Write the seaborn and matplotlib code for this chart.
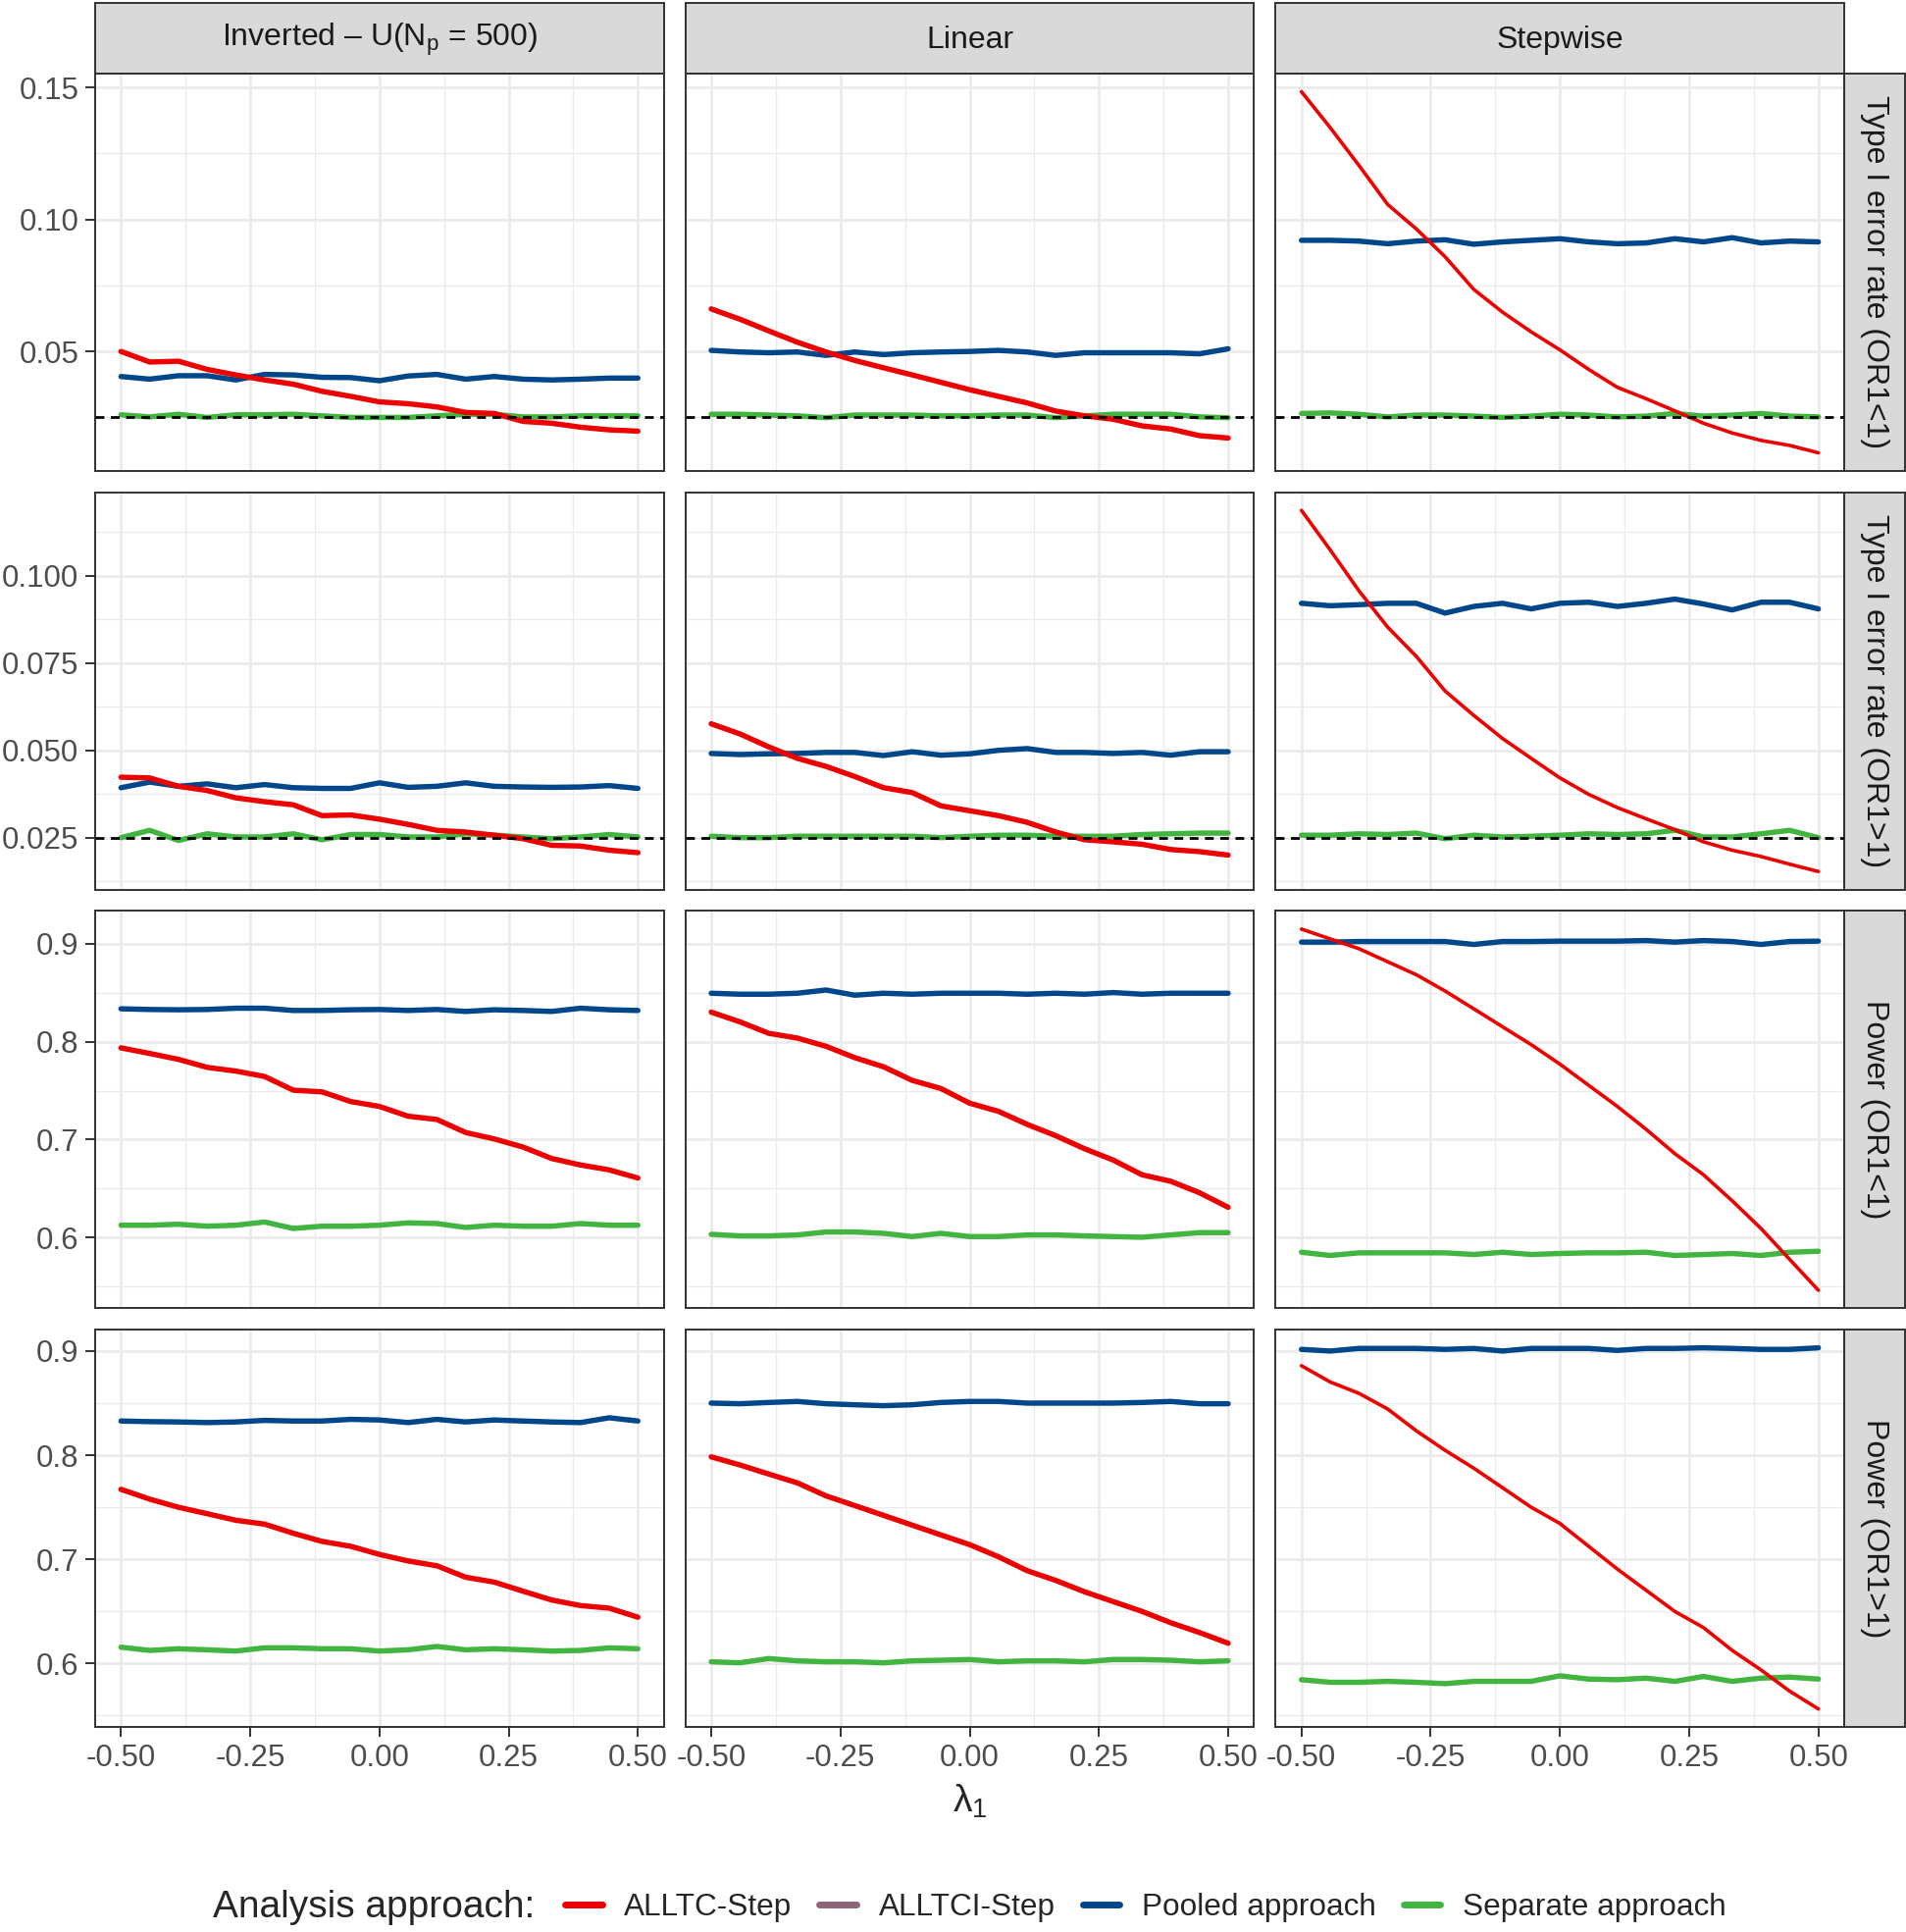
import numpy as np
import pandas as pd
import seaborn as sns
import matplotlib.pyplot as plt
from matplotlib.patches import Rectangle
from matplotlib.lines import Line2D

#%% data
lambda1 = np.linspace(-0.5, 0.5, 19)

shapes = ["Inverted \u2013 U(N$_\\mathregular{p}$ = 500)", "Linear", "Stepwise"]
metrics = ["Type I error rate (OR1<1)", "Type I error rate (OR1>1)",
           "Power (OR1<1)", "Power (OR1>1)"]
approaches = ["ALLTC-Step", "ALLTCI-Step", "Pooled approach", "Separate approach"]

# Type I error rate (OR1<1)
t1lt_inv_alltc = [0.0500, 0.0460, 0.0463, 0.0432, 0.0411, 0.0392, 0.0376, 0.0349, 0.0330, 0.0309,
                  0.0302, 0.0290, 0.0269, 0.0265, 0.0235, 0.0228, 0.0213, 0.0203, 0.0198]
t1lt_inv_pooled = [0.0405, 0.0395, 0.0408, 0.0408, 0.0392, 0.0413, 0.0411, 0.0402, 0.0401, 0.0389,
                   0.0407, 0.0413, 0.0395, 0.0405, 0.0395, 0.0392, 0.0395, 0.0399, 0.0399]
t1lt_inv_sep = [0.0260, 0.0252, 0.0262, 0.0250, 0.0260, 0.0260, 0.0262, 0.0256, 0.0250, 0.0250,
                0.0250, 0.0256, 0.0262, 0.0262, 0.0252, 0.0252, 0.0256, 0.0256, 0.0256]
t1lt_lin_alltc = [0.0661, 0.0622, 0.0578, 0.0535, 0.0498, 0.0466, 0.0438, 0.0411, 0.0383, 0.0355,
                  0.0330, 0.0305, 0.0274, 0.0256, 0.0243, 0.0218, 0.0206, 0.0181, 0.0172]
t1lt_lin_pooled = [0.0504, 0.0498, 0.0495, 0.0498, 0.0485, 0.0498, 0.0488, 0.0495, 0.0498, 0.0500,
                   0.0504, 0.0498, 0.0485, 0.0495, 0.0495, 0.0495, 0.0495, 0.0491, 0.0510]
t1lt_lin_sep = [0.0262, 0.0262, 0.0259, 0.0256, 0.0249, 0.0259, 0.0259, 0.0259, 0.0256, 0.0256,
                0.0259, 0.0259, 0.0249, 0.0256, 0.0262, 0.0262, 0.0262, 0.0252, 0.0249]
t1lt_step_alltc = [0.1484, 0.1348, 0.1205, 0.1057, 0.0964, 0.0859, 0.0735, 0.0649, 0.0574, 0.0506,
                   0.0432, 0.0364, 0.0321, 0.0275, 0.0228, 0.0191, 0.0163, 0.0144, 0.0116]
t1lt_step_pooled = [0.0921, 0.0921, 0.0918, 0.0908, 0.0918, 0.0923, 0.0906, 0.0915, 0.0921, 0.0927,
                    0.0915, 0.0908, 0.0911, 0.0927, 0.0915, 0.0931, 0.0911, 0.0918, 0.0915]
t1lt_step_sep = [0.0265, 0.0267, 0.0262, 0.0252, 0.0259, 0.0259, 0.0255, 0.0250, 0.0255, 0.0262,
                 0.0259, 0.0252, 0.0255, 0.0265, 0.0255, 0.0259, 0.0265, 0.0255, 0.0252]

# Type I error rate (OR1>1)
t1gt_inv_alltc = [0.0423, 0.0421, 0.0397, 0.0385, 0.0364, 0.0353, 0.0344, 0.0313, 0.0315, 0.0303,
                  0.0288, 0.0271, 0.0266, 0.0257, 0.0247, 0.0228, 0.0226, 0.0214, 0.0207]
t1gt_inv_pooled = [0.0393, 0.0409, 0.0397, 0.0404, 0.0393, 0.0402, 0.0393, 0.0391, 0.0391, 0.0407,
                   0.0394, 0.0397, 0.0407, 0.0397, 0.0395, 0.0394, 0.0395, 0.0399, 0.0391]
t1gt_inv_sep = [0.0250, 0.0271, 0.0242, 0.0261, 0.0252, 0.0252, 0.0261, 0.0244, 0.0259, 0.0259,
                0.0252, 0.0252, 0.0261, 0.0257, 0.0252, 0.0247, 0.0252, 0.0259, 0.0252]
t1gt_lin_alltc = [0.0576, 0.0547, 0.0510, 0.0477, 0.0454, 0.0425, 0.0393, 0.0379, 0.0341, 0.0327,
                  0.0313, 0.0294, 0.0266, 0.0244, 0.0238, 0.0231, 0.0216, 0.0210, 0.0200]
t1gt_lin_pooled = [0.0491, 0.0488, 0.0490, 0.0491, 0.0494, 0.0494, 0.0485, 0.0496, 0.0486, 0.0490,
                   0.0500, 0.0505, 0.0494, 0.0494, 0.0491, 0.0494, 0.0486, 0.0496, 0.0496]
t1gt_lin_sep = [0.0254, 0.0250, 0.0250, 0.0254, 0.0254, 0.0254, 0.0254, 0.0254, 0.0250, 0.0254,
                0.0257, 0.0257, 0.0254, 0.0254, 0.0254, 0.0259, 0.0261, 0.0263, 0.0263]
t1gt_step_alltc = [0.1187, 0.1074, 0.0957, 0.0853, 0.0769, 0.0670, 0.0600, 0.0534, 0.0477, 0.0421,
                   0.0374, 0.0336, 0.0304, 0.0273, 0.0238, 0.0214, 0.0196, 0.0174, 0.0153]
t1gt_step_pooled = [0.0921, 0.0914, 0.0917, 0.0921, 0.0921, 0.0893, 0.0912, 0.0921, 0.0905, 0.0921,
                    0.0924, 0.0912, 0.0921, 0.0933, 0.0919, 0.0902, 0.0924, 0.0924, 0.0905]
t1gt_step_sep = [0.0257, 0.0257, 0.0261, 0.0259, 0.0263, 0.0247, 0.0257, 0.0252, 0.0254, 0.0257,
                 0.0261, 0.0259, 0.0261, 0.0271, 0.0252, 0.0252, 0.0261, 0.0271, 0.0250]

# Power (OR1<1)
pwlt_inv_alltc = [0.7937, 0.7880, 0.7820, 0.7738, 0.7700, 0.7645, 0.7505, 0.7488, 0.7389, 0.7339,
                  0.7239, 0.7206, 0.7073, 0.7007, 0.6924, 0.6807, 0.6741, 0.6691, 0.6608]
pwlt_inv_pooled = [0.8336, 0.8329, 0.8326, 0.8329, 0.8342, 0.8342, 0.8319, 0.8319, 0.8326, 0.8329,
                   0.8319, 0.8329, 0.8309, 0.8326, 0.8319, 0.8309, 0.8342, 0.8326, 0.8319]
pwlt_inv_sep = [0.6126, 0.6126, 0.6136, 0.6116, 0.6126, 0.6159, 0.6093, 0.6116, 0.6116, 0.6126,
                0.6150, 0.6143, 0.6103, 0.6126, 0.6116, 0.6116, 0.6143, 0.6126, 0.6126]
pwlt_lin_alltc = [0.8302, 0.8203, 0.8086, 0.8037, 0.7953, 0.7837, 0.7744, 0.7605, 0.7522, 0.7372,
                  0.7289, 0.7156, 0.7040, 0.6907, 0.6791, 0.6641, 0.6575, 0.6458, 0.6309]
pwlt_lin_pooled = [0.8495, 0.8485, 0.8485, 0.8495, 0.8528, 0.8475, 0.8495, 0.8485, 0.8495, 0.8495,
                   0.8495, 0.8485, 0.8495, 0.8485, 0.8502, 0.8485, 0.8495, 0.8495, 0.8495]
pwlt_lin_sep = [0.6033, 0.6017, 0.6017, 0.6027, 0.6057, 0.6057, 0.6043, 0.6010, 0.6043, 0.6010,
                0.6010, 0.6027, 0.6027, 0.6017, 0.6010, 0.6003, 0.6027, 0.6050, 0.6050]
pwlt_step_alltc = [0.9150, 0.9050, 0.8950, 0.8817, 0.8684, 0.8518, 0.8336, 0.8153, 0.7970, 0.7771,
                   0.7555, 0.7339, 0.7106, 0.6857, 0.6641, 0.6375, 0.6093, 0.5777, 0.5462]
pwlt_step_pooled = [0.9017, 0.9017, 0.9023, 0.9023, 0.9023, 0.9023, 0.8993, 0.9023, 0.9023, 0.9027,
                    0.9027, 0.9027, 0.9033, 0.9017, 0.9033, 0.9023, 0.8993, 0.9023, 0.9027]
pwlt_step_sep = [0.5850, 0.5817, 0.5844, 0.5844, 0.5844, 0.5844, 0.5827, 0.5850, 0.5827, 0.5837,
                 0.5844, 0.5844, 0.5850, 0.5817, 0.5827, 0.5837, 0.5817, 0.5850, 0.5860]

# Power (OR1>1)
pwgt_inv_alltc = [0.7672, 0.7578, 0.7500, 0.7438, 0.7375, 0.7338, 0.7250, 0.7172, 0.7125, 0.7047,
                  0.6984, 0.6938, 0.6828, 0.6781, 0.6694, 0.6609, 0.6556, 0.6531, 0.6444]
pwgt_inv_pooled = [0.8328, 0.8322, 0.8319, 0.8313, 0.8319, 0.8334, 0.8328, 0.8328, 0.8344, 0.8338,
                   0.8313, 0.8344, 0.8319, 0.8338, 0.8328, 0.8319, 0.8313, 0.8359, 0.8328]
pwgt_inv_sep = [0.6156, 0.6125, 0.6141, 0.6131, 0.6119, 0.6150, 0.6150, 0.6141, 0.6141, 0.6119,
                0.6131, 0.6163, 0.6131, 0.6141, 0.6131, 0.6119, 0.6125, 0.6150, 0.6141]
pwgt_lin_alltc = [0.7984, 0.7906, 0.7819, 0.7734, 0.7609, 0.7516, 0.7422, 0.7328, 0.7234, 0.7141,
                  0.7025, 0.6891, 0.6797, 0.6688, 0.6594, 0.6500, 0.6391, 0.6297, 0.6194]
pwgt_lin_pooled = [0.8500, 0.8494, 0.8506, 0.8516, 0.8494, 0.8484, 0.8475, 0.8484, 0.8506, 0.8516,
                   0.8516, 0.8500, 0.8500, 0.8500, 0.8500, 0.8506, 0.8516, 0.8494, 0.8494]
pwgt_lin_sep = [0.6016, 0.6006, 0.6047, 0.6025, 0.6016, 0.6016, 0.6006, 0.6025, 0.6031, 0.6038,
                0.6016, 0.6025, 0.6025, 0.6016, 0.6038, 0.6038, 0.6031, 0.6016, 0.6025]
pwgt_step_alltc = [0.8859, 0.8703, 0.8594, 0.8444, 0.8234, 0.8047, 0.7875, 0.7688, 0.7500, 0.7344,
                   0.7125, 0.6906, 0.6703, 0.6500, 0.6344, 0.6125, 0.5938, 0.5734, 0.5563]
pwgt_step_pooled = [0.9016, 0.9000, 0.9025, 0.9025, 0.9025, 0.9016, 0.9025, 0.9000, 0.9025, 0.9025,
                    0.9025, 0.9006, 0.9025, 0.9025, 0.9031, 0.9025, 0.9016, 0.9016, 0.9031]
pwgt_step_sep = [0.5844, 0.5819, 0.5819, 0.5828, 0.5819, 0.5806, 0.5828, 0.5828, 0.5828, 0.5881,
                 0.5850, 0.5844, 0.5859, 0.5828, 0.5875, 0.5828, 0.5859, 0.5869, 0.5850]

alpha_level = 0.025
y_ticks = [[0.05, 0.10, 0.15], [0.025, 0.05, 0.075, 0.1],
           [0.6, 0.7, 0.8, 0.9], [0.6, 0.7, 0.8, 0.9]]
y_fmt = ["{:.2f}", "{:.3f}", "{:.1f}", "{:.1f}"]
x_ticks = [-0.5, -0.25, 0.0, 0.25, 0.5]

palette = {"ALLTC-Step": "#ED0000", "ALLTCI-Step": "#8E6478",
           "Pooled approach": "#00468B", "Separate approach": "#42B540"}

#%% long table
series = {
    (0, 0): (t1lt_inv_alltc, t1lt_inv_pooled, t1lt_inv_sep),
    (0, 1): (t1lt_lin_alltc, t1lt_lin_pooled, t1lt_lin_sep),
    (0, 2): (t1lt_step_alltc, t1lt_step_pooled, t1lt_step_sep),
    (1, 0): (t1gt_inv_alltc, t1gt_inv_pooled, t1gt_inv_sep),
    (1, 1): (t1gt_lin_alltc, t1gt_lin_pooled, t1gt_lin_sep),
    (1, 2): (t1gt_step_alltc, t1gt_step_pooled, t1gt_step_sep),
    (2, 0): (pwlt_inv_alltc, pwlt_inv_pooled, pwlt_inv_sep),
    (2, 1): (pwlt_lin_alltc, pwlt_lin_pooled, pwlt_lin_sep),
    (2, 2): (pwlt_step_alltc, pwlt_step_pooled, pwlt_step_sep),
    (3, 0): (pwgt_inv_alltc, pwgt_inv_pooled, pwgt_inv_sep),
    (3, 1): (pwgt_lin_alltc, pwgt_lin_pooled, pwgt_lin_sep),
    (3, 2): (pwgt_step_alltc, pwgt_step_pooled, pwgt_step_sep),
}
rows = []
for (r, c), (a, p, s) in series.items():
    for name, vals in zip(["ALLTC-Step", "Pooled approach", "Separate approach"], (a, p, s)):
        for x, v in zip(lambda1, vals):
            rows.append({"row": r, "col": c, "approach": name, "lambda1": x, "value": v})
df = pd.DataFrame(rows)

#%% plot
sns.set_theme(style="white")
plt.rcParams["font.family"] = ["Liberation Sans", "DejaVu Sans"]
plt.rcParams["axes.unicode_minus"] = False
plt.rcParams["mathtext.fontset"] = "custom"
plt.rcParams["mathtext.rm"] = "Liberation Sans"
plt.rcParams["mathtext.it"] = "Liberation Sans:italic"

fig, axes = plt.subplots(4, 3, figsize=(19.43, 19.69), dpi=100, sharex=True, sharey="row")
fig.subplots_adjust(left=0.0499, right=0.9676, top=0.9619, bottom=0.1061,
                    wspace=0.038, hspace=0.054)

grid_col = "#EBEBEB"
dark = "#333333"
for r in range(4):
    # ggplot-style limits: data range padded by 5%
    rvals = df[df.row == r].value
    pad = 0.05 * (rvals.max() - rvals.min())
    ylim = (rvals.min() - pad, rvals.max() + pad)
    for c in range(3):
        ax = axes[r, c]
        sub = df[(df.row == r) & (df.col == c)]
        for name, lw in [("Separate approach", 3.9), ("Pooled approach", 3.9),
                         ("ALLTC-Step", 3.9 if c < 2 else 2.6)]:
            sns.lineplot(data=sub[sub.approach == name], x="lambda1", y="value",
                         color=palette[name], lw=lw, ax=ax, legend=False,
                         estimator=None, solid_joinstyle="round")
        if r < 2:
            ax.axhline(alpha_level, color="black", lw=2.0, ls=(0, (3.2, 2.4)), zorder=5)
        ax.set_xlabel("")
        ax.set_ylabel("")
        ax.set_xticks(x_ticks)
        ax.set_xticks([-0.375, -0.125, 0.125, 0.375], minor=True)
        yt = y_ticks[r]
        step = yt[1] - yt[0]
        ax.set_yticks(yt)
        minors = [yt[0] - step / 2] + [t + step / 2 for t in yt]
        ax.set_yticks([m for m in minors if ylim[0] <= m <= ylim[1]], minor=True)
        ax.set_ylim(*ylim)
        ax.grid(True, which="major", color=grid_col, lw=2.0, zorder=0)
        ax.grid(True, which="minor", color=grid_col, lw=1.0, zorder=0)
        ax.set_axisbelow(True)
        for sp in ax.spines.values():
            sp.set_color(dark)
            sp.set_linewidth(1.4)
        ax.tick_params(which="major", length=7, width=1.4, color=dark,
                       labelsize=22.5, labelcolor="#4D4D4D", pad=5,
                       bottom=(r == 3), left=(c == 0))
        ax.tick_params(which="minor", length=0)
        if c == 0:
            ax.set_yticklabels([y_fmt[r].format(t) for t in yt])
        if r == 3:
            ax.set_xticklabels([f"{t:.2f}" for t in x_ticks])
        # strips
        if r == 0:
            ax.add_patch(Rectangle((0, 1.0), 1, 0.177, transform=ax.transAxes,
                                   facecolor="#D9D9D9", edgecolor=dark, lw=1.4, clip_on=False))
            ax.text(0.5, 1.085, shapes[c], transform=ax.transAxes, ha="center", va="center",
                    fontsize=23, color="#1A1A1A")
        if c == 2:
            ax.add_patch(Rectangle((1.0, 0), 0.107, 1, transform=ax.transAxes,
                                   facecolor="#D9D9D9", edgecolor=dark, lw=1.4, clip_on=False))
            ax.text(1.0535, 0.5, metrics[r], transform=ax.transAxes, ha="center", va="center",
                    rotation=-90, fontsize=23, color="#1A1A1A")

axes[0, 0].set_xlim(-0.55, 0.55)

fig.text(0.5087, 0.0675, "λ$_\\mathregular{1}$", ha="center", va="center", fontsize=28)

handles = [Line2D([], [], color=palette[a], lw=5) for a in approaches]
fig.text(0.1117, 0.0127, "Analysis approach:", ha="left", va="center", fontsize=28)
fig.legend(handles, approaches, loc="center", bbox_to_anchor=(0.601, 0.0127), ncol=4,
           frameon=False, fontsize=22.7, handlelength=1.2, handletextpad=0.72,
           columnspacing=0.88, borderaxespad=0, borderpad=0)

fig.savefig("out.png", dpi=100)
